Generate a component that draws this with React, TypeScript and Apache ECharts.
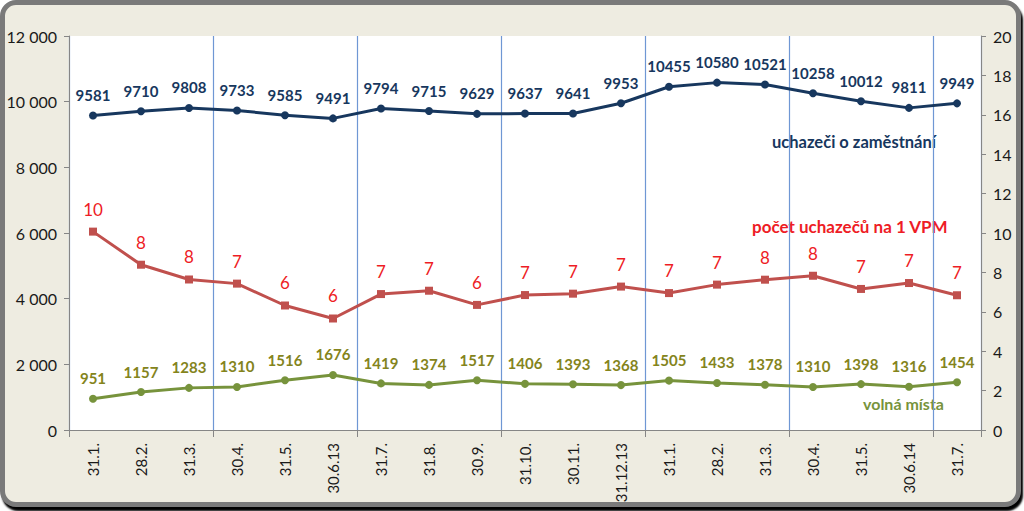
import React, { useEffect, useRef } from "react";
import * as echarts from "echarts";

const categories = [
  "31.1.", "28.2.", "31.3.", "30.4.", "31.5.", "30.6.13", "31.7.", "31.8.", "30.9.",
  "31.10.", "30.11.", "31.12.13", "31.1.", "28.2.", "31.3.", "30.4.", "31.5.", "30.6.14", "31.7.",
];
const uchazeci = [
  9581, 9710, 9808, 9733, 9585, 9491, 9794, 9715, 9629, 9637, 9641, 9953, 10455, 10580, 10521,
  10258, 10012, 9811, 9949,
];
const volnaMista = [
  951, 1157, 1283, 1310, 1516, 1676, 1419, 1374, 1517, 1406, 1393, 1368, 1505, 1433, 1378,
  1310, 1398, 1316, 1454,
];
const naVpm = [
  10.07, 8.39, 7.64, 7.43, 6.32, 5.66, 6.9, 7.07, 6.35, 6.85, 6.92, 7.28, 6.95, 7.38, 7.63,
  7.83, 7.16, 7.46, 6.84,
];
const leftTicks = { min: 0, max: 12000, interval: 2000 };
const rightTicks = { min: 0, max: 20, interval: 2 };

const FONT = "Lato, 'Open Sans', sans-serif";
const NAVY = "#17375E";
const RED_LINE = "#C0504D";
const RED_TEXT = "#EE1C25";
const GREEN = "#77933C";
const OLIVE = "#84841C";
const QUARTER_LINE = "#6F97D4";

export default function App() {
  const ref = useRef<HTMLDivElement>(null);
  useEffect(() => {
    if (!ref.current) return;
    const chart = echarts.init(ref.current, undefined, { renderer: "svg" });
    chart.setOption({
      animation: false,
      textStyle: { fontFamily: FONT },
      grid: { left: 69, right: 43, top: 36, bottom: 81, backgroundColor: "#fff", show: true, borderWidth: 0 },
      xAxis: [
        {
          type: "category",
          data: categories,
          boundaryGap: true,
          axisLine: { lineStyle: { color: "#868686", width: 1 } },
          axisTick: {
            alignWithLabel: true,
            inside: true,
            length: 5,
            interval: (i: number) => i % 3 === 1,
            lineStyle: { color: "#868686" },
          },
          axisLabel: {
            rotate: 90,
            interval: 0,
            margin: 13,
            fontSize: 15,
            color: "#1a1a1a",
            fontFamily: FONT,
          },
          splitLine: { show: false },
        },
        {
          type: "value",
          position: "bottom",
          min: 0,
          max: categories.length,
          interval: 3,
          axisLine: { show: false },
          axisLabel: { show: false },
          axisTick: { show: true, length: 7, lineStyle: { color: "#868686" } },
          splitLine: { show: true, lineStyle: { color: [QUARTER_LINE], width: 1.2, opacity: 1 } },
        },
      ],
      yAxis: [
        {
          type: "value",
          ...leftTicks,
          position: "left",
          axisLine: { show: true, lineStyle: { color: "#868686" } },
          axisTick: { show: true, length: 5, lineStyle: { color: "#868686" } },
          splitLine: { show: false },
          axisLabel: {
            fontSize: 16,
            color: "#1a1a1a",
            margin: 12,
            fontFamily: FONT,
            formatter: (v: number) => String(v).replace(/\B(?=(\d{3})+(?!\d))/g, " "),
          },
        },
        {
          type: "value",
          ...rightTicks,
          position: "right",
          axisLine: { show: true, lineStyle: { color: "#868686" } },
          axisTick: { show: true, length: 5, lineStyle: { color: "#868686" } },
          splitLine: { show: false },
          axisLabel: { fontSize: 16, color: "#1a1a1a", margin: 12, fontFamily: FONT },
        },
      ],
      series: [
        {
          name: "uchazeči o zaměstnání",
          type: "line",
          data: uchazeci,
          yAxisIndex: 0,
          xAxisIndex: 0,
          symbol: "circle",
          symbolSize: 8,
          lineStyle: { color: NAVY, width: 3 },
          itemStyle: { color: NAVY },
          label: {
            show: true,
            position: "top",
            distance: 9,
            color: NAVY,
            fontWeight: "bold",
            fontSize: 15,
            fontFamily: FONT,
          },
          z: 5,
        },
        {
          name: "počet uchazečů na 1 VPM",
          type: "line",
          data: naVpm,
          yAxisIndex: 1,
          xAxisIndex: 0,
          symbol: "rect",
          symbolSize: 8,
          lineStyle: { color: RED_LINE, width: 3 },
          itemStyle: { color: RED_LINE },
          label: {
            show: true,
            position: "top",
            distance: 10,
            color: RED_TEXT,
            fontSize: 17,
            fontFamily: FONT,
            formatter: (p: any) => String(Math.round(p.value)),
          },
          z: 5,
        },
        {
          name: "volná místa",
          type: "line",
          data: volnaMista,
          yAxisIndex: 0,
          xAxisIndex: 0,
          symbol: "circle",
          symbolSize: 8,
          lineStyle: { color: GREEN, width: 3 },
          itemStyle: { color: GREEN },
          label: {
            show: true,
            position: "top",
            distance: 9,
            color: OLIVE,
            fontWeight: "bold",
            fontSize: 15,
            fontFamily: FONT,
          },
          z: 5,
        },
      ],
      graphic: [
        {
          type: "text",
          left: 772,
          top: 133,
          style: { text: "uchazeči o zaměstnání", fill: NAVY, font: `bold 16.5px ${FONT}` },
        },
        {
          type: "text",
          left: 752,
          top: 218,
          style: { text: "počet uchazečů na 1 VPM", fill: RED_TEXT, font: `bold 17px ${FONT}` },
        },
        {
          type: "text",
          left: 863,
          top: 395,
          style: { text: "volná místa", fill: GREEN, font: `bold 16px ${FONT}` },
        },
      ],
    });
    return () => chart.dispose();
  }, []);

  return (
    <div style={{ position: "fixed", left: 0, top: 0, width: 1024, height: 511, background: "#fff", overflow: "hidden" }}>
      <div
        style={{
          position: "absolute",
          left: 0,
          top: 0,
          width: 1021,
          height: 507,
          boxSizing: "border-box",
          border: "5px solid #7A7A7A",
          borderRadius: 16,
          background: "#EEECE1",
          boxShadow: "2px 4px 2px #000",
        }}
      />
      <div ref={ref} style={{ position: "absolute", left: 0, top: 0, width: 1024, height: 511 }} />
    </div>
  );
}
